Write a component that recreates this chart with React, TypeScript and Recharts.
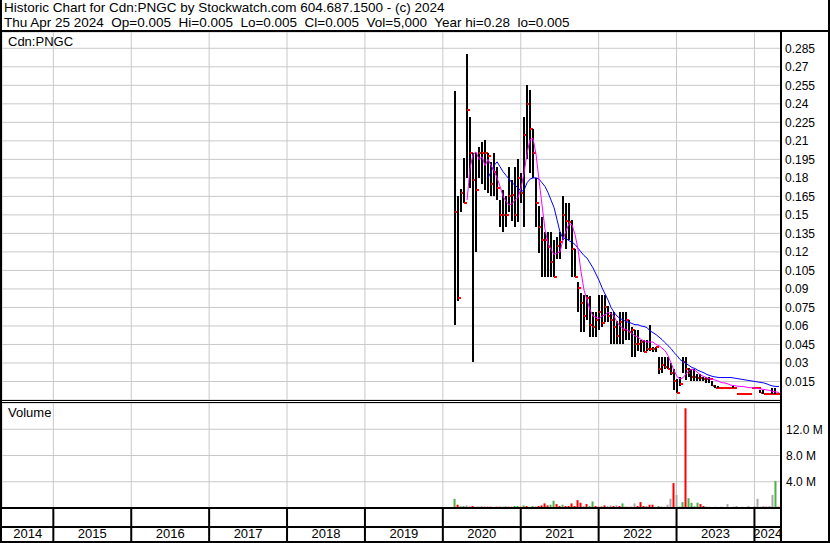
import React from "react";
import { ComposedChart, Bar, Line, XAxis, YAxis, CartesianGrid, Cell } from "recharts";

const FONT = 'Arial, "Liberation Sans", sans-serif';

const title = "Historic Chart for Cdn:PNGC by Stockwatch.com 604.687.1500 - (c) 2024";
const quote = "Thu Apr 25 2024  Op=0.005  Hi=0.005  Lo=0.005  Cl=0.005  Vol=5,000  Year hi=0.28  lo=0.005";

// time axis in decimal years, one bar every two weeks
const xDomain: [number, number] = [2014.341, 2024.341];
const firstBarYear = 2020.157;
const barStep = 0.0385;

const barHigh = [
  0.25, 0.165, 0.171, 0.196, 0.28, 0.229, 0.2, 0.2, 0.205, 0.209,
  0.211, 0.2, 0.193, 0.2, 0.189, 0.162, 0.17, 0.165, 0.189, 0.178,
  0.189, 0.195, 0.184, 0.229, 0.255, 0.251, 0.22, 0.18, 0.157, 0.148,
  0.136, 0.136, 0.136, 0.13, 0.132, 0.136, 0.165, 0.16, 0.16, 0.146,
  0.122, 0.096, 0.087, 0.085, 0.085, 0.084, 0.071, 0.071, 0.085, 0.085,
  0.085, 0.076, 0.071, 0.071, 0.064, 0.071, 0.071, 0.071, 0.065, 0.059,
  0.057, 0.057, 0.049, 0.049, 0.049, 0.061, 0.043, 0.043, 0.035, 0.035,
  0.035, 0.035, 0.03, 0.025, 0.017, 0.019, 0.035, 0.035, 0.026, 0.025,
  0.025, 0.021, 0.021, 0.019, 0.019, 0.019, 0.015, 0.012, 0.011, 0.01,
  0.01, 0.01, 0.01, 0.011, 0.005, 0.005, 0.005, 0.005, 0.005, 0.01,
  0.01, 0.01, 0.0085, 0.0085, 0.005, 0.005, 0.01, 0.01, 0.005,
];
const barLow = [
  0.061, 0.08, 0.152, 0.16, 0.18, 0.172, 0.031, 0.12, 0.18, 0.175,
  0.17, 0.168, 0.165, 0.165, 0.162, 0.14, 0.136, 0.14, 0.152, 0.145,
  0.14, 0.144, 0.16, 0.14, 0.195, 0.184, 0.18, 0.14, 0.119, 0.1,
  0.1, 0.1, 0.1, 0.1, 0.114, 0.114, 0.13, 0.122, 0.13, 0.1,
  0.1, 0.071, 0.055, 0.055, 0.065, 0.051, 0.051, 0.051, 0.057, 0.059,
  0.063, 0.063, 0.045, 0.045, 0.045, 0.045, 0.045, 0.049, 0.049, 0.035,
  0.035, 0.04, 0.039, 0.039, 0.04, 0.04, 0.039, 0.039, 0.021, 0.022,
  0.025, 0.025, 0.02, 0.0085, 0.006, 0.011, 0.022, 0.016, 0.019, 0.015,
  0.015, 0.015, 0.015, 0.015, 0.014, 0.014, 0.011, 0.01, 0.01, 0.01,
  0.01, 0.01, 0.01, 0.01, 0.005, 0.005, 0.005, 0.005, 0.005, 0.01,
  0.01, 0.01, 0.006, 0.005, 0.005, 0.005, 0.005, 0.005, 0.005,
];
const barClose = [
  0.152, 0.083, 0.168, 0.16, 0.235, 0.2, 0.178, 0.17, 0.2, 0.2,
  0.2, 0.198, 0.175, 0.185, 0.172, 0.15, 0.15, 0.15, 0.165, 0.166,
  0.15, 0.18, 0.168, 0.215, 0.24, 0.22, 0.2, 0.16, 0.14, 0.13,
  0.13, 0.124, 0.112, 0.1, 0.125, 0.128, 0.15, 0.145, 0.144, 0.122,
  0.1, 0.091, 0.079, 0.068, 0.083, 0.061, 0.059, 0.065, 0.071, 0.062,
  0.075, 0.068, 0.065, 0.059, 0.052, 0.063, 0.057, 0.065, 0.055, 0.057,
  0.045, 0.045, 0.047, 0.039, 0.041, 0.041, 0.041, 0.043, 0.025, 0.028,
  0.027, 0.025, 0.022, 0.015, 0.006, 0.013, 0.031, 0.025, 0.022, 0.019,
  0.019, 0.018, 0.018, 0.017, 0.017, 0.017, 0.011, 0.01, 0.01, 0.01,
  0.01, 0.01, 0.01, 0.01, 0.005, 0.005, 0.005, 0.005, 0.005, 0.01,
  0.01, 0.01, 0.006, 0.005, 0.005, 0.005, 0.005, 0.005, 0.005,
];

// moving averages (magenta = short, blue = long)
const maShort = [
  null, null, null, null, 0.162, 0.188, 0.199, 0.201, 0.195, 0.197,
  0.19, 0.195, 0.19, 0.186, 0.18, 0.173, 0.165, 0.161, 0.158, 0.159,
  0.162, 0.164, 0.172, 0.184, 0.2, 0.211, 0.212, 0.199, 0.178, 0.158,
  0.138, 0.127, 0.122, 0.118, 0.119, 0.12, 0.13, 0.137, 0.143, 0.142,
  0.134, 0.122, 0.104, 0.089, 0.081, 0.073, 0.068, 0.067, 0.066, 0.068,
  0.069, 0.071, 0.07, 0.068, 0.063, 0.06, 0.058, 0.057, 0.056, 0.054,
  0.052, 0.051, 0.049, 0.048, 0.047, 0.047, 0.047, 0.045, 0.044, 0.042,
  0.04, 0.036, 0.03, 0.024, 0.019, 0.017, 0.018, 0.021, 0.024, 0.025,
  0.024, 0.022, 0.02, 0.019, 0.018, 0.017, 0.0166, 0.016, 0.015, 0.014,
  0.0138, 0.013, 0.012, 0.0117, 0.0113, 0.011, 0.011, 0.0105, 0.01, 0.01,
  0.0097, 0.0093, 0.0089, 0.0085, 0.0081, 0.0077, 0.0069, 0.0065, 0.0061,
];
const maLong = [
  null, null, null, null, null, null, null, null, null, null,
  null, 0.18, 0.185, 0.19, 0.193, 0.189, 0.185, 0.182, 0.179, 0.176,
  0.174, 0.172, 0.169, 0.17, 0.176, 0.179, 0.18, 0.18, 0.179, 0.176,
  0.173, 0.168, 0.162, 0.156, 0.146, 0.136, 0.131, 0.131, 0.129, 0.128,
  0.126, 0.123, 0.12, 0.117, 0.115, 0.111, 0.107, 0.102, 0.097, 0.091,
  0.086, 0.081, 0.075, 0.071, 0.068, 0.066, 0.065, 0.0635, 0.063, 0.062,
  0.061, 0.061, 0.06, 0.0595, 0.0587, 0.056, 0.0546, 0.053, 0.051, 0.049,
  0.0465, 0.044, 0.0417, 0.0384, 0.036, 0.0328, 0.031, 0.0295, 0.028, 0.0263,
  0.0255, 0.024, 0.023, 0.022, 0.0206, 0.0198, 0.019, 0.0186, 0.0182, 0.0182,
  0.0182, 0.0182, 0.0182, 0.0178, 0.0174, 0.017, 0.0166, 0.0162, 0.0158, 0.0154,
  0.015, 0.0146, 0.0142, 0.0138, 0.013, 0.012, 0.0113, 0.011, 0.011,
];

// volume in millions, u = up (green), d = down (red), n = unchanged (grey)
const volume = [
  1.4, 0.5, 0.3, 0.3, 0.4, 0.2, 0.3, 0.2, 0.2, 0.3,
  0.2, 0.2, 0.2, 0.1, 0.2, 0.2, 0.2, 0.3, 0.2, 0.2,
  0.3, 0.3, 0.2, 0.4, 0.3, 0.2, 0.3, 0.2, 0.3, 0.4,
  0.7, 0.4, 0.5, 1.1, 0.6, 0.3, 0.5, 0.3, 0.3, 0.7,
  0.3, 1.2, 0.8, 0.3, 0.6, 0.3, 1.0, 0.3, 0.2, 0.3,
  0.4, 0.3, 0.4, 0.3, 0.4, 0.3, 0.7, 0.2, 0.2, 0.2,
  0.7, 0.3, 0.9, 0.3, 0.3, 0.5, 0.5, 0.2, 0.3, 0.2,
  0.2, 0.5, 1.4, 3.8, 2.0, 0.2, 0.9, 15.2, 1.5, 0.8,
  0.3, 0.8, 0.6, 0.3, 0.2, 0.2, 0.1, 0.2, 0.1, 0.2,
  0.1, 0.6, 0.1, 0.2, 0.3, 0.1, 0.2, 0.1, 0.3, 0.1,
  0.3, 1.4, 0.2, 0.3, 0.2, 0.3, 2.0, 4.1, 0.2,
];
const volumeDir =
  "udnunddudn" + "ddddddundd" + "uududnuddd" + "dduudduddd" + "dddnduuddn" +
  "dnndndudud" + "ndddnddnud" + "nnndnuuduu" + "nuddundndn" + "dndnndnnnd" + "nnnndnnud";

const yearLines = [2015, 2016, 2017, 2018, 2019, 2020, 2021, 2022, 2023, 2024];
const yearLabels = [2014, 2015, 2016, 2017, 2018, 2019, 2020, 2021, 2022, 2023, 2024];
const priceTicks = [
  0.015, 0.03, 0.045, 0.06, 0.075, 0.09, 0.105, 0.12, 0.135, 0.15,
  0.165, 0.18, 0.195, 0.21, 0.225, 0.24, 0.255, 0.27, 0.285,
];
const volumeTicks = [4, 8, 12];

const volColor: Record<string, string> = { u: "#4cb04c", d: "#ff0000", n: "#a8a8a8" };

const rows = barHigh.map((hi, i) => ({
  t: firstBarYear + i * barStep,
  hi,
  lo: barLow[i],
  cl: barClose[i],
  range: [barLow[i], hi],
  fast: maShort[i],
  slow: maLong[i],
  vol: volume[i],
  dir: volumeDir[i],
}));

// label centres of the visible part of each year cell
const labelPos = yearLabels.map(
  (y) => (Math.max(y, xDomain[0]) + Math.min(y + 1, xDomain[1])) / 2
);

const fmtPrice = (v: number) => String(Number(v.toFixed(3)));
const tickStyle = { fill: "#000", fontSize: 12, fontFamily: FONT };
const yearStyle = { fill: "#000", fontSize: 13, fontFamily: FONT };

function OhlcBar(props: any) {
  const { x, y, width, height, payload } = props;
  const h = Math.max(height || 0, 0);
  const span = payload.hi - payload.lo;
  const yc = span > 0 ? y + ((payload.hi - payload.cl) / span) * h : y + h;
  return (
    <g shapeRendering="crispEdges">
      {h > 0.5 && <rect x={x} y={y} width={width} height={h} fill="#000" />}
      <rect x={x + width - 0.5} y={yc - 1} width={3} height={2} fill="#ff0000" />
    </g>
  );
}

function line(style: React.CSSProperties) {
  return <div style={{ position: "absolute", background: "#000", ...style }} />;
}

export default function App() {
  return (
    <div
      style={{
        position: "absolute",
        left: 0,
        top: 0,
        width: 830,
        height: 543,
        background: "#fff",
        fontFamily: FONT,
        fontSize: 12,
        color: "#000",
        overflow: "hidden",
      }}
    >
      <div style={{ position: "absolute", left: 4, top: 0, fontSize: 13.5, lineHeight: "16px", whiteSpace: "pre" }}>
        {title}
      </div>
      <div style={{ position: "absolute", left: 4, top: 15, fontSize: 13.5, lineHeight: "16px", whiteSpace: "pre" }}>
        {quote}
      </div>

      <div style={{ position: "absolute", left: 0, top: 32 }}>
        <ComposedChart width={830} height={368} data={rows} margin={{ top: 0, right: 0, bottom: 0, left: 2 }}>
          <CartesianGrid stroke="#c8c8c8" />
          <XAxis dataKey="t" type="number" domain={xDomain} ticks={yearLines} allowDataOverflow hide />
          <YAxis
            orientation="right"
            type="number"
            width={49}
            domain={[0, 0.2982]}
            allowDataOverflow
            ticks={priceTicks}
            interval={0}
            tickFormatter={fmtPrice}
            tickLine={false}
            tickSize={0}
            tickMargin={4}
            axisLine={{ stroke: "#000", strokeWidth: 2 }}
            tick={tickStyle}
          />
          <Bar dataKey="range" barSize={2} shape={<OhlcBar />} isAnimationActive={false} />
          <Line dataKey="slow" stroke="#0000ff" strokeWidth={1} dot={false} isAnimationActive={false} />
          <Line dataKey="fast" stroke="#ff00ff" strokeWidth={1} dot={false} isAnimationActive={false} />
        </ComposedChart>
      </div>

      <div style={{ position: "absolute", left: 0, top: 403 }}>
        <ComposedChart width={830} height={139} data={rows} margin={{ top: 0, right: 0, bottom: 0, left: 2 }}>
          <CartesianGrid stroke="#c8c8c8" />
          <XAxis
            dataKey="t"
            type="number"
            domain={xDomain}
            ticks={yearLines}
            interval={0}
            allowDataOverflow
            height={19}
            tickSize={34}
            tickFormatter={() => ""}
            tickLine={{ stroke: "#000", strokeWidth: 2 }}
            axisLine={{ stroke: "#000", strokeWidth: 2 }}
          />
          <XAxis
            xAxisId="labels"
            dataKey="t"
            type="number"
            domain={xDomain}
            ticks={labelPos}
            interval={0}
            allowDataOverflow
            height={15}
            tickSize={0}
            tickMargin={2}
            tickLine={false}
            tickFormatter={(v: number) => String(Math.floor(v))}
            axisLine={{ stroke: "#000", strokeWidth: 2 }}
            tick={yearStyle}
          />
          <YAxis
            orientation="right"
            type="number"
            width={49}
            domain={[0, 16]}
            allowDataOverflow
            ticks={volumeTicks}
            interval={0}
            tickFormatter={(v: number) => `${v.toFixed(1)} M`}
            tickLine={false}
            tickSize={0}
            tickMargin={5}
            axisLine={{ stroke: "#000", strokeWidth: 2 }}
            tick={tickStyle}
          />
          <Bar dataKey="vol" barSize={2} isAnimationActive={false}>
            {rows.map((r, i) => (
              <Cell key={i} fill={volColor[r.dir]} />
            ))}
          </Bar>
        </ComposedChart>
      </div>

      <div style={{ position: "absolute", left: 8, top: 34, fontSize: 13, lineHeight: "16px" }}>Cdn:PNGC</div>
      <div style={{ position: "absolute", left: 8, top: 405, fontSize: 13, lineHeight: "16px" }}>Volume</div>

      {line({ left: 0, top: 30, width: 830, height: 2 })}
      {line({ left: 0, top: 400, width: 782, height: 1 })}
      {line({ left: 0, top: 402, width: 782, height: 1 })}
      {line({ left: 780, top: 32, width: 2, height: 510 })}
      {line({ left: 0, top: 0, width: 2, height: 543 })}
      {line({ left: 828, top: 0, width: 2, height: 543 })}
      {line({ left: 0, top: 541, width: 830, height: 2 })}
    </div>
  );
}
